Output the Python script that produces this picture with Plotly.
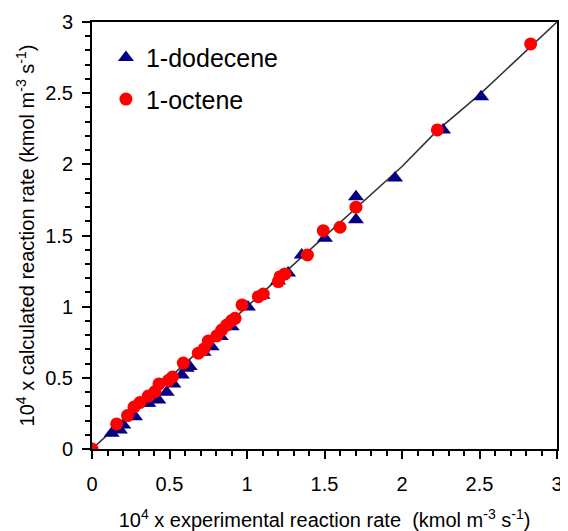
import plotly.graph_objects as go

# 1-octene (red circles): experimental, calculated
oct_exp = [0.0, 0.159, 0.229, 0.271, 0.31, 0.363, 0.406, 0.432, 0.492, 0.519, 0.589,
           0.686, 0.723, 0.75, 0.805, 0.837, 0.869, 0.901, 0.923, 0.968, 1.073, 1.105,
           1.202, 1.213, 1.245, 1.39, 1.492, 1.6, 1.703, 2.228, 2.83]
oct_calc = [0.0, 0.176, 0.235, 0.295, 0.327, 0.372, 0.403, 0.457, 0.481, 0.506, 0.604,
            0.673, 0.703, 0.758, 0.795, 0.836, 0.871, 0.902, 0.918, 1.012, 1.07, 1.089,
            1.176, 1.211, 1.23, 1.363, 1.534, 1.558, 1.699, 2.242, 2.846]

# 1-dodecene (navy triangles)
dod_exp = [0.0, 0.127, 0.18, 0.202, 0.267, 0.277, 0.353, 0.363, 0.428, 0.482, 0.525,
           0.579, 0.611, 0.63, 0.72, 0.772, 0.83, 0.901, 1.006, 1.1, 1.2, 1.265,
           1.353, 1.503, 1.703, 1.703, 1.955, 2.265, 2.51]
dod_calc = [0.0, 0.11, 0.134, 0.169, 0.239, 0.227, 0.321, 0.321, 0.344, 0.398, 0.457,
            0.52, 0.567, 0.58, 0.68, 0.719, 0.79, 0.859, 0.998, 1.08, 1.18, 1.236,
            1.363, 1.48, 1.773, 1.61, 1.904, 2.242, 2.475]

# model line
line_x = [0.0, 1.0, 2.0, 2.23, 2.5, 3.0]
line_y = [0.0, 1.0, 1.985, 2.24, 2.49, 3.0]

FONT = "Arial, Liberation Sans, sans-serif"

fig = go.Figure()
fig.add_trace(go.Scatter(x=line_x, y=line_y, mode="lines",
                         line=dict(color="#333333", width=1.6), showlegend=False,
                         hoverinfo="skip"))
fig.add_trace(go.Scatter(x=dod_exp, y=dod_calc, mode="markers", name="1-dodecene",
                         legendgroup="a",
                         marker=dict(symbol="triangle-up", size=14, color="#000080")))
fig.add_trace(go.Scatter(x=oct_exp, y=oct_calc, mode="markers", name="1-octene",
                         legendgroup="b",
                         marker=dict(symbol="circle", size=13, color="#FF0000")))

axis_common = dict(
    range=[0, 3], dtick=0.5, tick0=0, showgrid=False, zeroline=False,
    showline=True, linecolor="black", linewidth=2, mirror=True,
    ticks="outside", ticklen=8, tickwidth=2, tickcolor="black",
    tickfont=dict(family=FONT, size=20, color="black"),
    minor=dict(dtick=0.1, tick0=0, ticks="outside", ticklen=5, tickwidth=2,
               tickcolor="black", showgrid=False),
    automargin=False,
)

fig.update_xaxes(**axis_common, ticklabelstandoff=8,
                 title=dict(text="10<sup>4</sup> x experimental reaction rate  (kmol m<sup>-3</sup> s<sup>-1</sup>)",
                            font=dict(family=FONT, size=20, color="black"), standoff=19))
fig.update_yaxes(**axis_common, ticklabelstandoff=5,
                 title=dict(text="10<sup>4</sup> x calculated reaction rate (kmol m<sup>-3</sup> s<sup>-1</sup>)",
                            font=dict(family=FONT, size=20, color="black"), standoff=5))

# page body has an 8px margin: shift margins to place the plot area at the reference position
fig.update_layout(
    width=568, height=531,
    margin=dict(l=84, r=19, t=14, b=90),
    plot_bgcolor="white", paper_bgcolor="white",
    font=dict(family=FONT, color="black"),
    legend=dict(x=0.03, y=0.97, xanchor="left", yanchor="top",
                bgcolor="rgba(0,0,0,0)", font=dict(family=FONT, size=25),
                traceorder="grouped", tracegroupgap=6, itemsizing="trace"),
)

fig.write_html("out.html")
